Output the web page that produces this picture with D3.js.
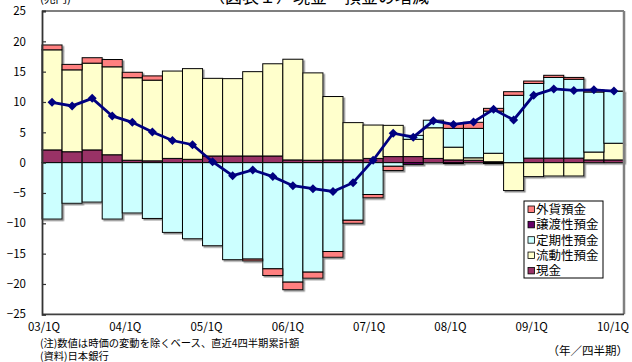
<!DOCTYPE html>
<html>
<head>
<meta charset="utf-8">
<script src="https://cdn.jsdelivr.net/npm/d3@7"></script>
<style>
  body { margin: 0; background: #fff; }
  svg { display: block; }
  text { font-family: "Noto Sans CJK JP", "Noto Sans", sans-serif; fill: #000; }
</style>
</head>
<body>
<svg id="chart" width="632" height="362"></svg>
<script>
// Quarterly categories, 2003 Q1 – 2010 Q1
const quarters = [
  "03/1Q","03/2Q","03/3Q","03/4Q",
  "04/1Q","04/2Q","04/3Q","04/4Q",
  "05/1Q","05/2Q","05/3Q","05/4Q",
  "06/1Q","06/2Q","06/3Q","06/4Q",
  "07/1Q","07/2Q","07/3Q","07/4Q",
  "08/1Q","08/2Q","08/3Q","08/4Q",
  "09/1Q","09/2Q","09/3Q","09/4Q",
  "10/1Q"
];

// Change over the latest four quarters (trillion yen)
const cash      = [2.1, 1.8, 2.1, 1.3, 0.4, 0.3, 0.7, 0.55, 1.1, 1.1, 1.1, 1.1, 0.45, 0.4, 0.45, 0.45, 0.7, 1.0, 1.0, 0.7, 0.45, 0.4, 0.15, 0.0, 0.75, 0.75, 0.75, 0.45, 0.45];
const demandDep = [16.5, 13.5, 14.3, 14.5, 13.6, 13.3, 14.4, 14.95, 12.8, 12.75, 13.9, 15.2, 16.6, 14.4, 10.45, 6.15, 5.5, 5.15, 2.85, 5.05, 2.1, 0.4, 1.4, -4.6, -2.3, -2.2, -2.2, 1.3, 2.75];
const timeDep   = [-9.3, -6.7, -6.5, -9.3, -8.3, -9.2, -11.5, -12.55, -13.7, -16.0, -15.9, -17.5, -19.7, -18.05, -14.65, -9.5, -5.25, -0.6, 0.65, 1.25, 3.1, 4.85, 6.95, 11.1, 12.3, 13.3, 13.0, 9.9, 8.55];
const ncd       = [0, 0, 0, 0, 0, 0, 0, 0, 0, 0, 0, 0, 0, 0, 0, 0, 0, 0, -0.3, 0, -0.15, 0, -0.15, 0, 0, 0, 0, 0, 0];
const fxDep     = [0.8, 0.9, 0.9, 1.2, 0.9, 0.7, 0, 0, 0, 0, -0.3, -1.1, -1.25, -1.0, -0.95, -0.5, -0.55, -0.7, 0, 0, 0.8, 1.0, 0.45, 0.6, 0.4, 0.35, 0.3, 0.3, 0.05];
const total     = [9.95, 9.35, 10.6, 7.7, 6.65, 5.05, 3.65, 2.95, 0.15, -2.15, -1.2, -2.3, -3.8, -4.3, -4.75, -3.3, 0.4, 4.85, 4.2, 6.9, 6.3, 6.7, 8.8, 7.05, 11.1, 12.15, 11.9, 12.0, 11.8];

const yearLabels = ["03/1Q","04/1Q","05/1Q","06/1Q","07/1Q","08/1Q","09/1Q","10/1Q"];
const yTickValues = [-25, -20, -15, -10, -5, 0, 5, 10, 15, 20, 25];

const seriesNames  = ["現金", "流動性預金", "定期性預金", "譲渡性預金", "外貨預金"];
const seriesColors = ["#993366", "#FFFFCC", "#CCFFFF", "#660066", "#FF8080"];
const seriesValues = [cash, demandDep, timeDep, ncd, fxDep];

const svg = d3.select("#chart");
const plot = { left: 42, right: 624, top: 11, bottom: 314.3 };

const x = d3.scaleBand().domain(quarters).range([plot.left, plot.right]).padding(0);
const y = d3.scaleLinear().domain([-25, 25]).range([plot.bottom, plot.top]);
const xLab = d3.scalePoint().domain(yearLabels).range([44, 613]);

// Drop shadow used on bars
const defs = svg.append("defs");
const f = defs.append("filter").attr("id", "shadow")
  .attr("x", "-5%").attr("y", "-5%").attr("width", "110%").attr("height", "110%");
f.append("feDropShadow").attr("dx", 1.5).attr("dy", 1.5).attr("stdDeviation", 0.3)
  .attr("flood-color", "#808080").attr("flood-opacity", 0.9);

// Title (sits at the very top edge)
svg.append("text").attr("x", 40).attr("y", 3).attr("font-size", 11.5).text("(兆円)");
svg.append("text").attr("x", 208).attr("y", 3).attr("font-size", 17).text("（図表１）現金・預金の増減");

// Stacked bars (positive values above zero, negatives below)
const rows = quarters.map((q, i) => {
  const r = { q };
  seriesNames.forEach((n, k) => { r[n] = seriesValues[k][i]; });
  return r;
});
const layers = d3.stack().keys(seriesNames).offset(d3.stackOffsetDiverging)(rows);

const barG = svg.append("g").attr("filter", "url(#shadow)");
layers.forEach((layer, k) => {
  barG.append("g")
    .selectAll("rect")
    .data(layer.filter(d => Math.abs(d[1] - d[0]) > 1e-9))
    .join("rect")
    .attr("x", d => x(d.data.q))
    .attr("width", x.bandwidth())
    .attr("y", d => y(Math.max(d[0], d[1])))
    .attr("height", d => Math.abs(y(d[0]) - y(d[1])))
    .attr("fill", seriesColors[k])
    .attr("stroke", "#000")
    .attr("stroke-width", 1);
});

// Frame of the plot area
svg.append("line").attr("x1", plot.left).attr("x2", plot.right).attr("y1", plot.top).attr("y2", plot.top)
  .attr("stroke", "#000").attr("stroke-width", 1.2);
svg.append("line").attr("x1", plot.right).attr("x2", plot.right).attr("y1", plot.top).attr("y2", plot.bottom)
  .attr("stroke", "#808080").attr("stroke-width", 2.5);
svg.append("line").attr("x1", plot.left).attr("x2", plot.right).attr("y1", plot.bottom).attr("y2", plot.bottom)
  .attr("stroke", "#404040").attr("stroke-width", 1.8);

// Y axis with inward ticks
const yAxis = svg.append("g").attr("transform", `translate(${plot.left},0)`)
  .call(d3.axisLeft(y).tickValues(yTickValues).tickSize(-4).tickPadding(16));
yAxis.select(".domain").attr("stroke", "#333").attr("stroke-width", 1.8);
yAxis.selectAll(".tick line").attr("stroke", "#333").attr("stroke-width", 1.2);
yAxis.selectAll(".tick text")
  .attr("font-family", "\"Noto Sans CJK JP\", sans-serif").attr("font-size", 11.5).attr("fill", "#000");

// Year labels under the plot
svg.append("g").selectAll("text").data(yearLabels).join("text")
  .attr("x", d => xLab(d)).attr("y", 331)
  .attr("text-anchor", "middle").attr("font-size", 11.5)
  .text(d => d);

// Total change line with diamond markers
const cx = q => x(q) + x.bandwidth() / 2;
svg.append("path")
  .datum(total)
  .attr("fill", "none").attr("stroke", "#000080").attr("stroke-width", 2.8)
  .attr("d", d3.line().x((d, i) => cx(quarters[i])).y(d => y(d)));
svg.append("g").selectAll("path").data(total).join("path")
  .attr("transform", (d, i) => `translate(${cx(quarters[i])},${y(d)})`)
  .attr("d", "M0,-4.5L4.5,0L0,4.5L-4.5,0Z")
  .attr("fill", "#000080");

// Legend (series listed top-down in reverse stacking order)
const lg = svg.append("g");
lg.append("rect").attr("x", 524).attr("y", 201).attr("width", 79).attr("height", 77)
  .attr("fill", "#fff").attr("stroke", "#000").attr("stroke-width", 1);
const legendOrder = [4, 3, 2, 1, 0];
legendOrder.forEach((k, j) => {
  const yy = 209.3 + j * 15.35;
  lg.append("rect").attr("x", 528).attr("y", yy - 3.3).attr("width", 6.5).attr("height", 6.5)
    .attr("fill", seriesColors[k]).attr("stroke", "#000").attr("stroke-width", 0.8);
  lg.append("text").attr("x", 536).attr("y", yy).attr("dy", "0.36em")
    .attr("font-size", 12.5).text(seriesNames[k]);
});

// Notes
svg.append("text").attr("x", 40).attr("y", 347).attr("font-size", 10.3)
  .text("(注)数値は時価の変動を除くベース、直近4四半期累計額");
svg.append("text").attr("x", 40).attr("y", 360).attr("font-size", 10.3)
  .text("(資料)日本銀行");
svg.append("text").attr("x", 628).attr("y", 355).attr("text-anchor", "end").attr("font-size", 11.5)
  .text("（年／四半期）");
</script>
</body>
</html>
